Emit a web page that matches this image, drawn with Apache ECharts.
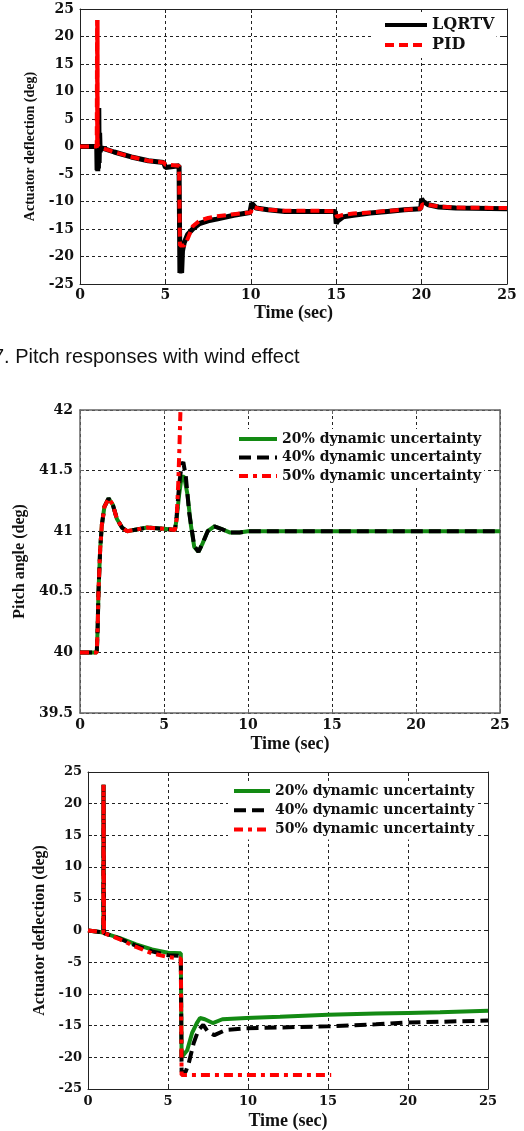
<!DOCTYPE html>
<html>
<head>
<meta charset="UTF-8">
<title>Pitch responses with wind effect</title>
<script src="https://cdn.jsdelivr.net/npm/echarts@6/dist/echarts.min.js"></script>
<style>
body{margin:0;background:#fff;}
#main{width:524px;height:1131px;}
</style>
</head>
<body>
<div id="main"></div>
<script type="text/javascript">
// axis ranges [min, max, interval]
var timeRange = [0, 25, 5];
var deflRange = [-25, 25, 5];
var pitchRange = [39.5, 42, 0.5];

// chart 1 : actuator deflection, LQRTV vs PID
var lqrtvT = [0, 0.98, 1.0, 1.02, 1.04, 1.06, 1.08, 1.1, 1.12, 1.15, 1.18, 1.22, 2, 3, 4, 4.9, 5.0, 5.1, 5.8, 5.85, 5.9, 5.95, 6.0, 6.1, 6.3, 6.6, 7, 7.5, 8, 9, 9.95, 10.05, 10.3, 11, 12, 13, 14, 14.95, 15.0, 15.1, 15.4, 16, 17, 18, 19, 19.95, 20.0, 20.1, 20.4, 21, 22, 25];
var lqrtvV = [0, 0, -4.3, 0, -4.5, 1, -4, 7, -3, 2.5, -1, -0.2, -1.0, -1.9, -2.6, -2.9, -3.8, -3.5, -3.5, -23, -22, -23, -19, -17.5, -16, -15, -14, -13.5, -13.2, -12.5, -12, -10.3, -11.2, -11.5, -11.8, -11.8, -11.8, -11.8, -14, -13.5, -12.8, -12.5, -12.1, -11.8, -11.5, -11.3, -9.5, -10, -10.6, -11, -11.2, -11.3];
var pidT = [0, 0.98, 1.0, 1.005, 1.01, 1.015, 1.02, 1.025, 1.03, 1.035, 1.05, 1.1, 1.2, 2, 3, 4, 4.9, 5.0, 5.1, 5.8, 5.85, 5.95, 6.1, 6.3, 6.6, 7.0, 7.5, 8, 9, 10, 10.1, 10.5, 11, 12, 13, 14, 14.95, 15.05, 15.3, 16, 17, 18, 19, 19.95, 20.05, 20.3, 21, 22, 25];
var pidV = [0, 0, 23, 0.4, 22.6, 0.8, 22.2, 1.3, 23, 0.2, 0.3, 0, -0.2, -1.0, -1.9, -2.6, -2.9, -3.3, -3.5, -3.5, -18, -18.3, -18, -16.8, -14.5, -13.5, -13, -12.7, -12.3, -12, -11, -11.3, -11.5, -11.7, -11.7, -11.7, -11.8, -12.8, -12.5, -12.2, -12, -11.7, -11.5, -11.3, -10.5, -10.6, -10.9, -11.1, -11.2];

// chart 2 : pitch angle with dynamic uncertainty
var p20T = [0, 1.0, 1.05, 1.1, 1.2, 1.3, 1.45, 1.7, 1.95, 2.2, 2.5, 2.8, 3.2, 4, 5, 5.65, 5.75, 5.9, 6.05, 6.2, 6.4, 6.6, 6.8, 7.05, 7.3, 7.6, 8.0, 8.4, 8.9, 9.5, 10, 25];
var p20V = [40, 40, 40.2, 40.5, 40.85, 41.05, 41.2, 41.27, 41.22, 41.1, 41.03, 41.0, 41.01, 41.03, 41.02, 41.01, 41.1, 41.3, 41.45, 41.45, 41.3, 41.05, 40.87, 40.83, 40.9, 41.0, 41.04, 41.02, 40.99, 40.99, 41.0, 41.0];
var p40T = [0, 1.0, 1.05, 1.1, 1.2, 1.3, 1.45, 1.7, 1.95, 2.2, 2.5, 2.8, 3.2, 4, 5, 5.65, 5.75, 5.9, 6.05, 6.15, 6.3, 6.5, 6.8, 7.05, 7.3, 7.6, 8.0, 8.4, 8.9, 9.5, 10, 25];
var p40V = [40, 40, 40.2, 40.5, 40.85, 41.05, 41.2, 41.27, 41.22, 41.1, 41.03, 41.0, 41.01, 41.03, 41.02, 41.01, 41.12, 41.38, 41.55, 41.57, 41.45, 41.15, 40.88, 40.83, 40.9, 41.0, 41.04, 41.02, 40.99, 40.99, 41.0, 41.0];
var p50T = [0, 1.0, 1.05, 1.1, 1.2, 1.3, 1.45, 1.7, 1.95, 2.2, 2.5, 2.8, 3.2, 4, 5, 5.65, 5.75, 5.85, 5.92, 5.98, 6.05];
var p50V = [40, 40, 40.2, 40.5, 40.85, 41.05, 41.2, 41.27, 41.22, 41.1, 41.03, 41.0, 41.01, 41.03, 41.02, 41.01, 41.1, 41.4, 41.7, 42.0, 42.4];

// chart 3 : actuator deflection with dynamic uncertainty
var d20T = [0, 0.96, 0.97, 0.99, 1.0, 2, 3, 4, 5, 5.8, 5.85, 5.95, 6.2, 6.5, 6.8, 7.0, 7.3, 7.8, 8.4, 9.9, 12, 15, 18, 20, 22, 25];
var d20V = [0, -0.3, 23, 23, -0.4, -1.2, -2.2, -3.0, -3.5, -3.6, -20, -20, -18.9, -16.2, -14.6, -13.8, -14.0, -14.6, -14.0, -13.8, -13.6, -13.3, -13.1, -13.0, -12.9, -12.65];
var d40T = [0, 0.96, 0.97, 0.99, 1.0, 2, 3, 4, 5, 5.8, 5.85, 6.1, 6.3, 6.6, 6.9, 7.2, 7.5, 7.9, 8.6, 9.9, 12, 15, 18, 20, 22, 25];
var d40V = [0, -0.3, 23, 23, -0.4, -1.3, -2.4, -3.3, -3.9, -4.0, -22.3, -22.3, -20.9, -17.8, -15.7, -14.9, -16.0, -16.5, -15.7, -15.4, -15.3, -15.1, -14.8, -14.5, -14.4, -14.2];
var d50T = [0, 0.96, 0.97, 0.99, 1.0, 2, 3, 4, 5, 5.8, 5.85, 15.2];
var d50V = [0, -0.3, 23, 23, -0.4, -1.4, -2.6, -3.6, -4.2, -4.4, -22.8, -22.8];

var serifB = 'DejaVu Serif';
var times = 'Liberation Serif';
var names = ['20% dynamic uncertainty', '40% dynamic uncertainty', '50% dynamic uncertainty'];

function pts(t, v) {
	return t.map(function (x, i) { return [x, v[i]]; });
}

function xAxes(gi, box, fs, margin, gap) {
	var line = {show: true, onZero: false, lineStyle: {color: box.c, width: box.w}};
	var tick = {inside: true, length: 4, lineStyle: {color: box.c}};
	return [{
		type: 'value', gridIndex: gi, position: 'bottom',
		min: timeRange[0], max: timeRange[1], interval: timeRange[2],
		name: 'Time (sec)', nameLocation: 'middle', nameGap: gap,
		nameTextStyle: {fontFamily: times, fontWeight: 'bold', fontSize: 18, color: '#111'},
		axisLine: line, axisTick: tick,
		axisLabel: {fontFamily: serifB, fontWeight: 'bold', fontSize: fs, color: '#111', margin: margin},
		splitLine: {show: true, lineStyle: {color: '#222', type: [3, 3], width: 1}}
	}, {
		type: 'value', gridIndex: gi, position: 'top',
		min: timeRange[0], max: timeRange[1], interval: timeRange[2],
		axisLine: line, axisTick: tick, axisLabel: {show: false}, splitLine: {show: false}
	}];
}

function yAxes(gi, range, name, nfs, gap, box, fs, margin) {
	var line = {show: true, onZero: false, lineStyle: {color: box.c, width: box.w}};
	var tick = {inside: true, length: 4, lineStyle: {color: box.c}};
	return [{
		type: 'value', gridIndex: gi, position: 'left',
		min: range[0], max: range[1], interval: range[2],
		name: name, nameLocation: 'middle', nameRotate: 90, nameGap: gap,
		nameTextStyle: {fontFamily: times, fontWeight: 'bold', fontSize: nfs, color: '#111'},
		axisLine: line, axisTick: tick,
		axisLabel: {fontFamily: serifB, fontWeight: 'bold', fontSize: fs, color: '#111', margin: margin},
		splitLine: {show: true, lineStyle: {color: '#222', type: [3, 3], width: 1}}
	}, {
		type: 'value', gridIndex: gi, position: 'right',
		min: range[0], max: range[1], interval: range[2],
		axisLine: line, axisTick: tick, axisLabel: {show: false}, splitLine: {show: false}
	}];
}

function ser(name, xi, data, color, width, dash, z) {
	return {
		name: name, type: 'line', xAxisIndex: xi, yAxisIndex: xi, data: data,
		symbol: 'none', z: z, color: color,
		itemStyle: {color: color},
		lineStyle: {color: color, width: width, type: dash}
	};
}

var box1 = {c: '#222', w: 1};
var box2 = {c: '#666', w: 1.5};

var legText = {fontFamily: serifB, fontWeight: 'bold', fontSize: 14, color: '#111'};
var noMark = {opacity: 0, borderWidth: 0};

var chart = echarts.init(document.getElementById('main'));
chart.setOption({
	animation: false,
	backgroundColor: '#fff',
	grid: [
		{left: 80, top: 9, width: 427, height: 275},
		{left: 80, top: 410, width: 420, height: 303},
		{left: 88, top: 772, width: 400, height: 317}
	],
	xAxis: [].concat(xAxes(0, box1, 14, 4, 20), xAxes(1, box2, 14, 5, 22), xAxes(2, box1, 13, 6, 23)),
	yAxis: [].concat(
		yAxes(0, deflRange, 'Actuator deflection (deg)', 14, 40, box1, 14, 6),
		yAxes(1, pitchRange, 'Pitch angle (deg)', 16, 44, box2, 14, 7),
		yAxes(2, deflRange, 'Actuator deflection (deg)', 16, 35, box1, 13, 6)
	),
	legend: [{
		data: ['LQRTV', 'PID'], orient: 'vertical', left: 373, top: 12,
		padding: [5, 2, 5, 10], itemWidth: 42, itemHeight: 14, itemGap: 4,
		backgroundColor: '#fff', selectedMode: false, lineStyle: {width: 4}, itemStyle: noMark,
		textStyle: {fontFamily: serifB, fontWeight: 'bold', fontSize: 16, color: '#111'}
	}, {
		data: names, orient: 'vertical', left: 233, top: 429,
		padding: [3, 3, 3, 4], itemWidth: 38, itemHeight: 14, itemGap: 4.5,
		backgroundColor: '#fff', selectedMode: false, lineStyle: {width: 4}, itemStyle: noMark,
		textStyle: legText
	}, {
		data: names, orient: 'vertical', left: 228, top: 781,
		padding: [3, 3, 3, 4], itemWidth: 36, itemHeight: 14, itemGap: 5.3,
		backgroundColor: '#fff', selectedMode: false, lineStyle: {width: 4}, itemStyle: noMark,
		textStyle: legText
	}],
	graphic: [{
		type: 'text', x: -7, y: 357,
		style: {text: '7. Pitch responses with wind effect', font: '20px "Liberation Sans"', fill: '#111', verticalAlign: 'middle'}
	}],
	series: [
		ser('LQRTV', 0, pts(lqrtvT, lqrtvV), '#000', 5, 'solid', 2),
		ser('PID', 0, pts(pidT, pidV), '#ff0000', 4, [9, 5], 3),
		ser(names[0], 2, pts(p20T, p20V), '#138a13', 4, 'solid', 2),
		ser(names[1], 2, pts(p40T, p40V), '#000', 4, [12, 6], 3),
		ser(names[2], 2, pts(p50T, p50V), '#ff0000', 4, [9, 5, 4, 5], 4),
		ser(names[0], 4, pts(d20T, d20V), '#138a13', 4, 'solid', 2),
		ser(names[1], 4, pts(d40T, d40V), '#000', 4, [12, 6], 3),
		ser(names[2], 4, pts(d50T, d50V), '#ff0000', 4, [9, 5, 4, 5], 4)
	]
});
</script>
</body>
</html>
